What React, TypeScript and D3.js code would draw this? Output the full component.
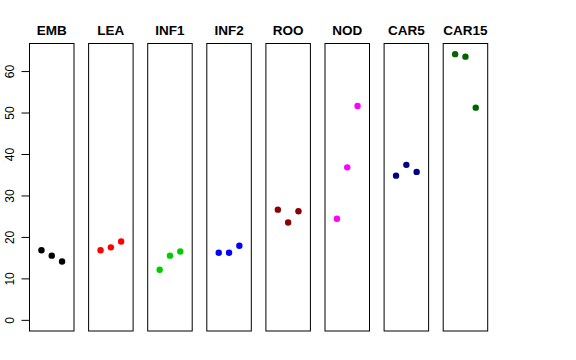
import React from "react";
import * as d3 from "d3";

const categories = ["EMB", "LEA", "INF1", "INF2", "ROO", "NOD", "CAR5", "CAR15"];
const colors = ["#000000", "#FF0000", "#00CD00", "#0000FF", "#8B0000", "#FF00FF", "#00008B", "#006400"];
const values: number[][] = [
  [16.9, 15.6, 14.2],
  [16.9, 17.6, 19.0],
  [12.2, 15.6, 16.6],
  [16.3, 16.3, 18.0],
  [26.7, 23.6, 26.3],
  [24.5, 36.9, 51.7],
  [34.9, 37.5, 35.8],
  [64.2, 63.6, 51.3],
];
const yTicks = [0, 10, 20, 30, 40, 50, 60];

export default function App() {
  const W = 576, H = 360;
  const top = 43.5, bottom = 331;
  const yMin = 0, yMax = 64.2;
  const ext = (yMax - yMin) * 0.04;
  const y = d3.scaleLinear().domain([yMin - ext, yMax + ext]).range([bottom, top]);
  const panelLeft = d3.scaleLinear().domain([0, 1]).range([29.5, 88.6]);
  const pw = 44.5;
  return (
    <svg width={W} height={H} style={{ position: "absolute", left: 0, top: 0, background: "#fff" }}
      fontFamily="'Liberation Sans', Arial, sans-serif">
      {categories.map((c, i) => {
        const L = panelLeft(i);
        const x = d3.scaleLinear().domain([-0.16, 4.16]).range([L, L + pw]);
        return (
          <g key={c}>
            <rect x={L} y={top} width={pw} height={bottom - top} fill="none" stroke="#000" strokeWidth={1} />
            <text x={L + pw / 2} y={35} textAnchor="middle" fontWeight="bold" fontSize={13.5}>{c}</text>
            {values[i].map((v, j) => (
              <circle key={j} cx={x(j + 1)} cy={y(v)} r={3.2} fill={colors[i]} />
            ))}
          </g>
        );
      })}
      <g>
        <line x1={29.5} x2={29.5} y1={y(0)} y2={y(60)} stroke="#000" />
        {yTicks.map((t) => (
          <g key={t}>
            <line x1={21.5} x2={29.5} y1={y(t)} y2={y(t)} stroke="#000" />
            <text transform={`translate(13.5,${y(t)}) rotate(-90)`} textAnchor="middle" fontSize={12}>{t}</text>
          </g>
        ))}
      </g>
    </svg>
  );
}
